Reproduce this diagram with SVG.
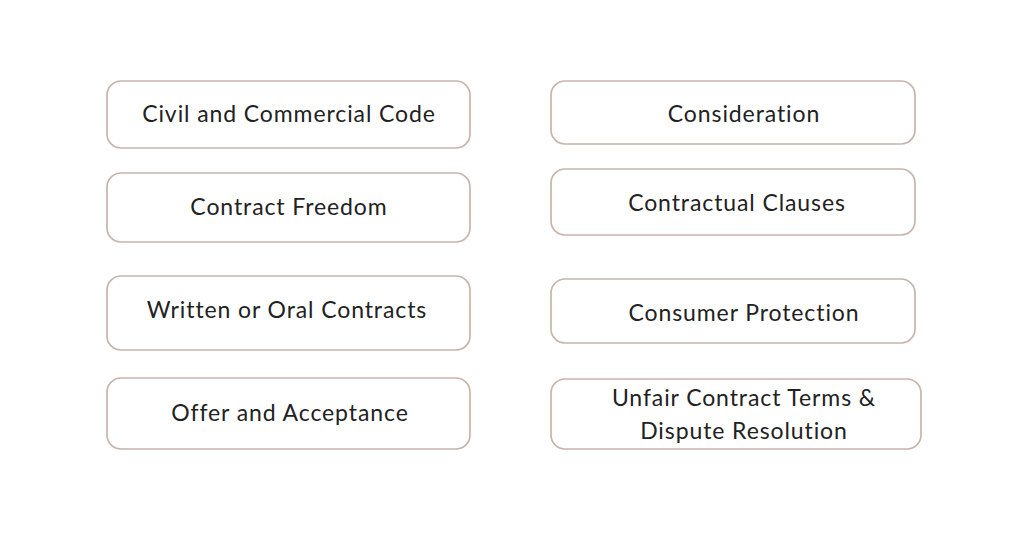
<svg xmlns="http://www.w3.org/2000/svg" width="1024" height="538" viewBox="0 0 1024 538">
<style>
.box{fill:#fff;stroke:#c8b4aa;stroke-width:1.7}
.t{font-family:Lato,"Open Sans",sans-serif;font-size:23px;letter-spacing:0.9px;fill:#222;text-anchor:middle}
</style>
<rect width="1024" height="538" fill="#fff"/>
<g id="n1"><rect class="box" x="107" y="81" width="363" height="67" rx="14"/><text class="t" x="289" y="122">Civil and Commercial Code</text></g>
<g id="n2"><rect class="box" x="107" y="173" width="363" height="69" rx="14"/><text class="t" x="289" y="215">Contract Freedom</text></g>
<g id="n3"><rect class="box" x="107" y="276" width="363" height="74" rx="14"/><text class="t" x="287" y="318">Written or Oral Contracts</text></g>
<g id="n4"><rect class="box" x="107" y="378" width="363" height="71" rx="14"/><text class="t" x="290" y="421">Offer and Acceptance</text></g>
<g id="n5"><rect class="box" x="551" y="81" width="364" height="63" rx="14"/><text class="t" x="744" y="122">Consideration</text></g>
<g id="n6"><rect class="box" x="551" y="169" width="364" height="66" rx="14"/><text class="t" x="737" y="211">Contractual Clauses</text></g>
<g id="n7"><rect class="box" x="551" y="279" width="364" height="64" rx="14"/><text class="t" x="744" y="321">Consumer Protection</text></g>
<g id="n8"><rect class="box" x="551" y="379" width="370" height="70" rx="14"/><text class="t" x="744" y="406">Unfair Contract Terms &amp;</text><text class="t" x="744" y="439">Dispute Resolution</text></g>
<g id="connectors"></g>
</svg>
